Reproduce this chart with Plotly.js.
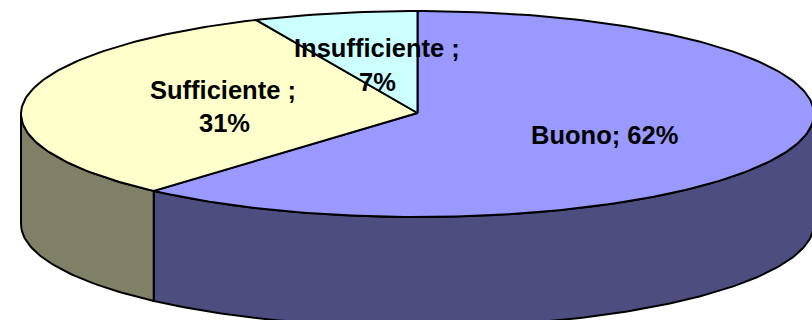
<!DOCTYPE html>
<html>
<head>
<meta charset="utf-8">
<script src="https://cdn.plot.ly/plotly-3.0.1.min.js"></script>
<style>
  html, body { margin: 0; padding: 0; background: #fff; overflow: hidden; }
  #chart { width: 812px; height: 320px; }
</style>
</head>
<body>
<div id="chart"></div>
<script>
// values, clockwise from 12 o'clock
var categories = ["Buono", "Sufficiente", "Insufficiente"];
var shares = [62, 31, 7];
var labelLines = [["Buono; 62%"], ["Sufficiente ;", "31%"], ["Insufficiente ;", "7%"]];

var topColors = ["#9999FF", "#FFFFCC", "#CCFFFF"];
var sideColors = ["#4D4D80", "#808066", "#668080"];

// label line centres, in page pixels
var labelX = [[604.5], [222.5, 224], [377, 377]];
var labelY = [[134.5], [89.5, 122.5], [47.5, 81.5]];

// the tilted disc, in page pixels
var cx = 417.5, cy = 114, rx = 396.5, ry = 103, depth = 110;
var skew = -1.5; // perspective shift of the slice edges, degrees

function rad(deg) { return deg * Math.PI / 180; }

function project(deg, drop) {
  var a = rad(deg + skew * Math.sin(rad(2 * deg)));
  return [cx + rx * Math.sin(a), cy - ry * Math.cos(a) + drop];
}

function arc(from, to, drop) {
  var pts = [];
  for (var d = from; d < to; d += 1) pts.push(project(d, drop));
  pts.push(project(to, drop));
  return pts;
}

function shape(pts, fill) {
  return {
    x: pts.map(function (p) { return p[0]; }),
    y: pts.map(function (p) { return p[1]; }),
    mode: "lines",
    fill: "toself",
    fillcolor: fill,
    line: { color: "#000", width: 2, shape: "linear" },
    hoverinfo: "skip",
    showlegend: false
  };
}

var total = shares.reduce(function (a, b) { return a + b; }, 0);
var sides = [], tops = [], start = 0;

categories.forEach(function (name, i) {
  var end = start + shares[i] / total * 360;
  // only the part between 3 and 9 o'clock faces the viewer
  var a = Math.max(start, 90), b = Math.min(end, 270);
  if (b > a) {
    sides.push(shape(arc(a, b, 0).concat(arc(a, b, depth).reverse()).concat([project(a, 0)]), sideColors[i]));
  }
  tops.push(shape([[cx, cy - 1]].concat(arc(start, end, 0)).concat([[cx, cy - 1]]), topColors[i]));
  start = end;
});

var annotations = [];
labelLines.forEach(function (lines, i) {
  lines.forEach(function (line, j) {
    annotations.push({
      x: labelX[i][j],
      y: labelY[i][j],
      xref: "x",
      yref: "y",
      text: "<b>" + line + "</b>",
      showarrow: false,
      xanchor: "center",
      yanchor: "middle",
      font: { family: "Liberation Sans, Arial, sans-serif", size: 25.5, color: "#000" }
    });
  });
});

var layout = {
  width: 812,
  height: 320,
  margin: { l: 0, r: 0, t: 0, b: 0 },
  paper_bgcolor: "#fff",
  plot_bgcolor: "#fff",
  showlegend: false,
  xaxis: { range: [0, 812], visible: false, fixedrange: true },
  yaxis: { range: [320, 0], visible: false, fixedrange: true },
  annotations: annotations
};

Plotly.newPlot("chart", sides.concat(tops), layout, { displayModeBar: false, staticPlot: true });
</script>
</body>
</html>
